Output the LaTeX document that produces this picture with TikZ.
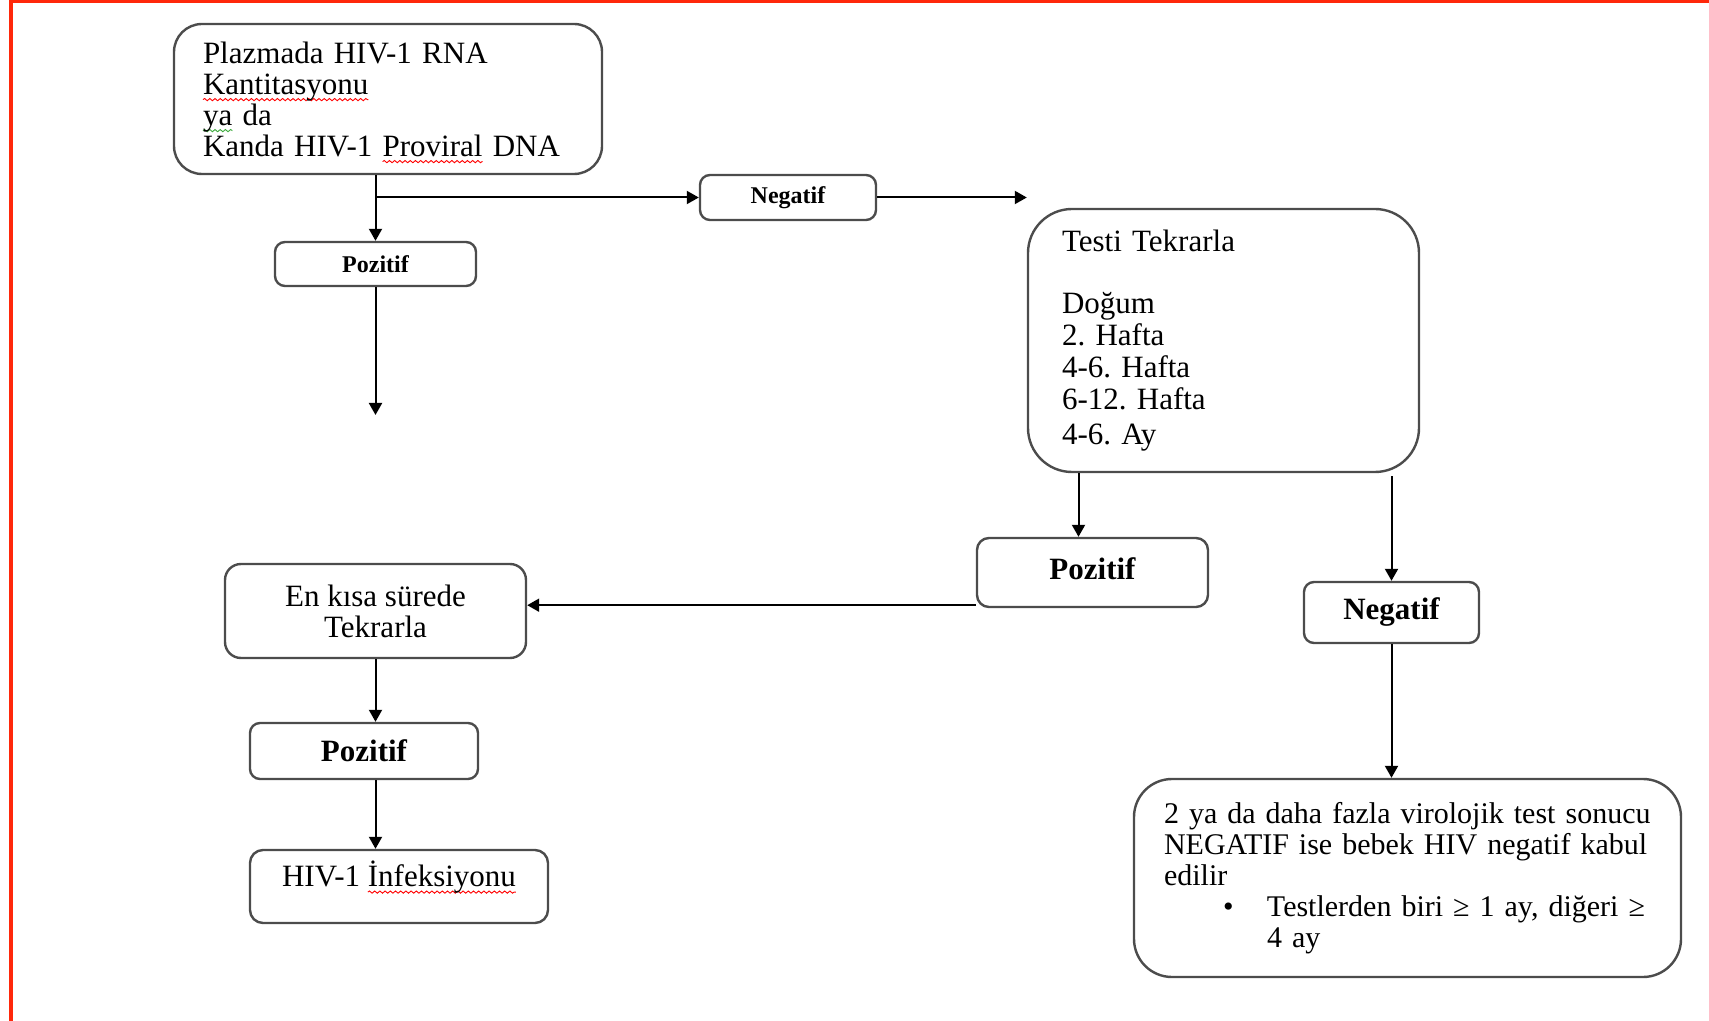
\documentclass[tikz,border=0pt]{standalone}
\usepackage{fontspec}
\setmainfont{Liberation Serif}
\usetikzlibrary{arrows.meta,calc,decorations.pathmorphing}
\definecolor{frameRed}{RGB}{255,40,10}
\definecolor{waveGreen}{RGB}{60,170,60}
\newsavebox\spellbox
\newcommand\spellwave[2]{\leavevmode\sbox\spellbox{#2}\rlap{\tikz[overlay,baseline=0pt,x=1pt,y=1pt,sharp corners]\draw[#1, line width=0.45pt, sharp corners, decorate, decoration={snake,amplitude=0.55pt,segment length=2.6pt}] (0pt,-2.8pt) -- (\the\wd\spellbox,-2.8pt);}\usebox\spellbox}
\tikzset{
  box/.style={draw=black!70, line width=1.2pt, fill=white, inner sep=0pt},
  bodytext/.style={font=\fontsize{15.5}{15.5}\selectfont\frenchspacing},
  smallbold/.style={font=\fontsize{12}{14}\selectfont\bfseries},
  bigbold/.style={font=\fontsize{15.5}{16}\selectfont\bfseries},
  conn/.style={line width=1pt, -{Triangle[length=6pt,width=6.5pt]}},
  redframe/.style={draw=frameRed, line width=1.6pt},
}
\begin{document}
\begin{tikzpicture}[x=0.5pt,y=-0.5pt]
\useasboundingbox (0,0) rectangle (1709,1021);
\draw[redframe] (1709,1.6) -- (11,1.6) -- (11,1021);

% boxes
\node[box, bodytext, rounded corners=14pt, minimum width=214pt, minimum height=75pt,
      text width=185pt, align=left, inner xsep=14.5pt] (box1) at (388,99)
  {Plazmada HIV-1 RNA\\ \spellwave{red}{Kantitasyonu}\\ \spellwave{waveGreen}{ya} da\\ Kanda HIV-1 \spellwave{red}{Proviral} DNA};

\node[box, smallbold, rounded corners=5pt, minimum width=100.5pt, minimum height=22pt] (pos1) at (375.5,264) {Pozitif};
\node[box, smallbold, rounded corners=5pt, minimum width=88pt, minimum height=22.5pt] (neg1) at (788,197.5) {Negatif};

\node[box, font=\fontsize{15.5}{16}\selectfont\frenchspacing, rounded corners=22pt, minimum width=195.5pt, minimum height=131.5pt,
      text width=161.5pt, align=left, inner xsep=17pt] (box2) at (1223.5,340.5)
  {Testi Tekrarla\\[15pt] Doğum\\ 2. Hafta\\ 4-6. Hafta\\ 6-12. Hafta\\[1.5pt] 4-6. Ay};

\node[box, bigbold, rounded corners=6pt, minimum width=115.5pt, minimum height=34.5pt, text depth=4pt] (pos2) at (1092.5,572.5) {Pozitif};
\node[box, bigbold, rounded corners=5pt, minimum width=87.5pt, minimum height=30.5pt] (neg2) at (1391.5,612.5) {Negatif};

\node[box, bodytext, rounded corners=8pt, minimum width=150.5pt, minimum height=47pt, align=center] (enk) at (375.5,611)
  {En kısa sürede\\ Tekrarla};
\node[box, bigbold, rounded corners=5pt, minimum width=114pt, minimum height=28pt] (pos3) at (364,751) {Pozitif};
\node[box, bodytext, rounded corners=6.5pt, minimum width=149pt, minimum height=36.5pt, text height=10pt, text depth=10pt, align=center] (hiv) at (399,886.5)
  {HIV-1 \spellwave{red}{İnfeksiyonu}};

\node[box, font=\fontsize{15}{15.5}\selectfont\frenchspacing, rounded corners=19pt, minimum width=273.5pt, minimum height=99pt,
      text width=243.5pt, align=left, inner xsep=15pt] (final) at (1407.5,878)
  {\mbox{2 ya da daha fazla virolojik test sonucu}\\
   \mbox{NEGATIF ise bebek HIV negatif kabul}\\
   edilir\\
   \mbox{\hspace*{29.5pt}\makebox[22pt][l]{•}Testlerden biri ≥ 1 ay, diğeri ≥}\\
   \hspace*{51.5pt}4 ay};

% free ends
\coordinate (e1) at (neg1.east -| box2.west);
\coordinate (p1end) at (375.5,415);
\coordinate (p2in) at ([xshift=-7pt]pos2.north);

% connectors
\draw[conn] (box1.south -| pos1.north) -- (pos1.north);
\draw[conn] (pos1.north |- neg1.west) -- (neg1.west);
\draw[conn] (neg1.east) -- (e1);
\draw[conn] (pos1.south) -- (p1end);
\draw[conn] (box2.south -| p2in) -- (p2in);
\draw[conn] ([yshift=-1.5pt]box2.south -| neg2.north) -- (neg2.north);
\draw[conn] ([yshift=1.5pt]pos2.south west) -- ([yshift=1.5pt]pos2.south west -| enk.east);
\draw[conn] (enk.south) -- (enk.south |- pos3.north);
\draw[conn] (enk.south |- pos3.south) -- (enk.south |- hiv.north);
\draw[conn] (neg2.south) -- (neg2.south |- final.north);
\end{tikzpicture}
\end{document}
